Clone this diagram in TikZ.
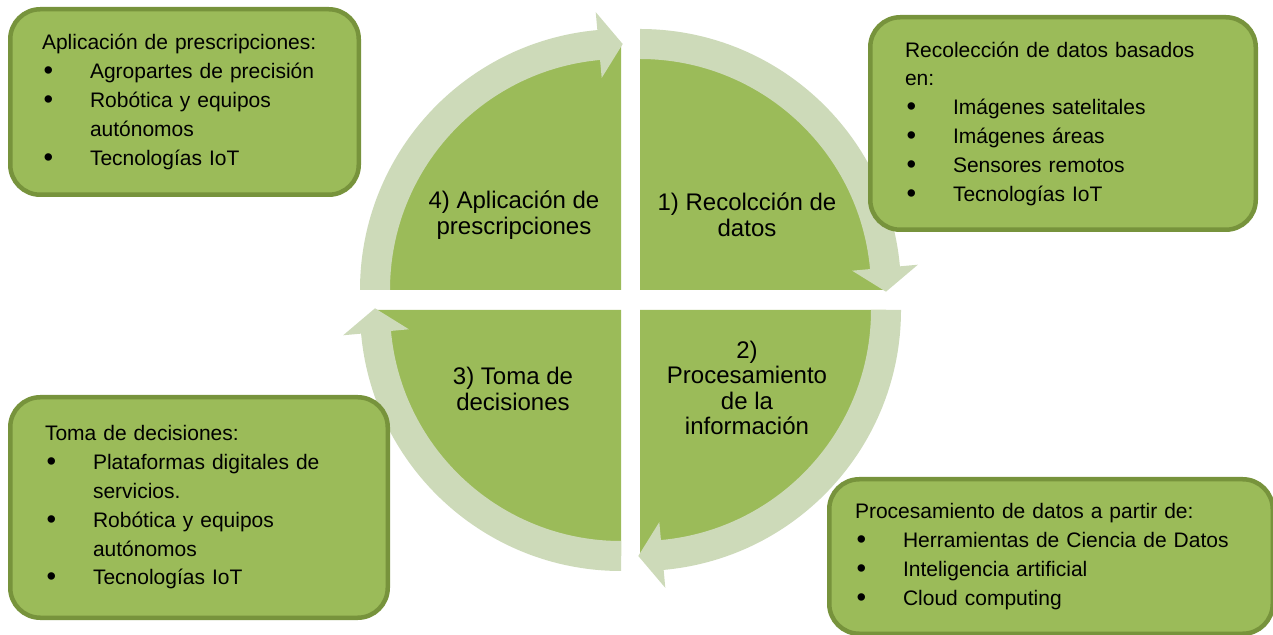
\documentclass[tikz,border=0pt]{standalone}
\usepackage{fontspec}
\setmainfont{Liberation Sans}
\usetikzlibrary{calc}
\definecolor{leafgreen}{HTML}{9BBB59}
\definecolor{bordergreen}{HTML}{77933C}
\definecolor{bandgreen}{HTML}{CDDAB9}
\tikzstyle{infobox} = [draw=bordergreen, line width=4.5pt, fill=leafgreen, rounded corners=30pt, align=left, inner sep=0pt, font=\fontsize{21}{28.8}\selectfont]
\tikzstyle{quadlabel} = [align=center, inner sep=0pt, font=\fontsize{24}{25.5}\selectfont]
\tikzstyle{quadfill} = [fill=leafgreen]
\tikzstyle{band} = [fill=bandgreen]
% bullet lines inside the boxes
\newcommand{\itm}[1]{\makebox[48pt][l]{\hspace{1.5pt}\raisebox{-1pt}{\scalebox{1.3}{\textbullet}}}#1}
\newcommand{\cont}[1]{\hspace*{48pt}#1}
% quarter disc and its curved arrow, #1 corner, #2 start angle
\newcommand{\leafquad}[2]{\fill[quadfill] (#1) -- ($(#1)+(#2:246)$) arc[start angle=#2, end angle=#2-90, radius=246] -- cycle;}
\newcommand{\cyclearrow}[2]{\fill[band] ($(#1)+(#2:261)$) arc[start angle=#2, end angle=#2-84.8, radius=261]
    -- ($(#1)+({#2-84.8}:279)$) -- ($(#1)+({#2-90.4}:246)$) -- ($(#1)+({#2-84.8}:213)$)
    -- ($(#1)+({#2-84.8}:231)$) arc[start angle=#2-84.8, end angle=#2, radius=231] -- cycle;}

\begin{document}
\begin{tikzpicture}[x=1pt, y=1pt]
    \useasboundingbox (0,0) rectangle (1273,634);

    % Corners of the four quarters
    \coordinate (c1) at (640,344);
    \coordinate (c2) at (640,324);
    \coordinate (c3) at (621,324);
    \coordinate (c4) at (621,344);

    % Draw the cycle
    \leafquad{c1}{90}
    \leafquad{c2}{0}
    \leafquad{c3}{270}
    \leafquad{c4}{180}
    \cyclearrow{c1}{90}
    \cyclearrow{c2}{0}
    \cyclearrow{c3}{270}
    \cyclearrow{c4}{180}

    % Place nodes
    \node [quadlabel] (recoleccion) at (747,419) {1) Recolcción de\\datos};
    \node [quadlabel] (procesamiento) at (747,246) {2)\\Procesamiento\\de la\\información};
    \node [quadlabel] (decisiones) at (513,245) {3) Toma de\\decisiones};
    \node [quadlabel] (aplicacion) at (514,419) {4) Aplicación de\\prescripciones};

    \node [infobox, text width=285pt, minimum width=348.5pt, minimum height=185.5pt] (aplicacion-box) at (184.5,532)
        {Aplicación de prescripciones:\\
         \itm{Agropartes de precisión}\\
         \itm{Robótica y equipos}\\
         \cont{autónomos}\\
         \itm{Tecnologías IoT}};
    \node [infobox, text width=316pt, minimum width=385.5pt, minimum height=212.5pt] (recoleccion-box) at (1063,510.5)
        {Recolección de datos basados\\
         en:\\
         \itm{Imágenes satelitales}\\
         \itm{Imágenes áreas}\\
         \itm{Sensores remotos}\\
         \itm{Tecnologías IoT}};
    \node [infobox, text width=308pt, minimum width=377.5pt, minimum height=220.5pt] (decisiones-box) at (199,126.5)
        {Toma de decisiones:\\
         \itm{Plataformas digitales de}\\
         \cont{servicios.}\\
         \itm{Robótica y equipos}\\
         \cont{autónomos}\\
         \itm{Tecnologías IoT}};
    \node [infobox, text width=392pt, minimum width=443.5pt, minimum height=154.5pt] (procesamiento-box) at (1051,77.5)
        {Procesamiento de datos a partir de:\\
         \itm{Herramientas de Ciencia de Datos}\\
         \itm{Inteligencia artificial}\\
         \itm{Cloud computing}};
\end{tikzpicture}
\end{document}
